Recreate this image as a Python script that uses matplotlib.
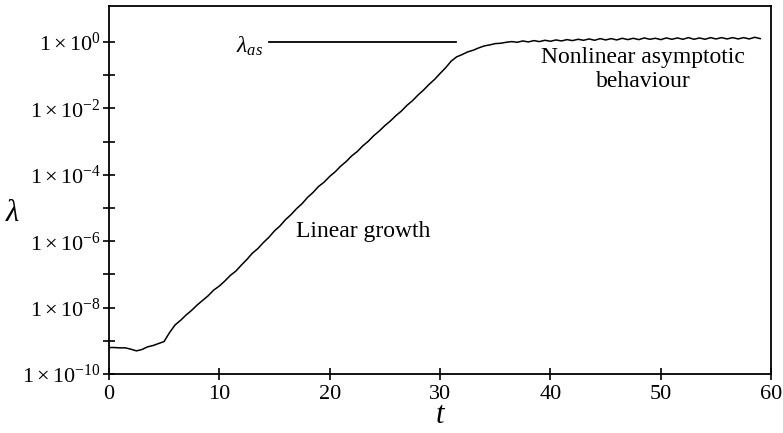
import numpy as np
import matplotlib
matplotlib.use("Agg")
import matplotlib.pyplot as plt
from matplotlib.ticker import FixedLocator, NullFormatter

plt.rcParams['font.family'] = 'Liberation Serif'
plt.rcParams['mathtext.fontset'] = 'custom'
plt.rcParams['mathtext.rm'] = 'Liberation Serif'
plt.rcParams['mathtext.it'] = 'Liberation Serif:italic'

t = np.arange(0, 59.5, 0.5)
log_lam = [
    -9.20, -9.20, -9.21, -9.21, -9.25, -9.30, -9.26, -9.18, -9.14, -9.08,  # 0 - 4.5
    -9.02, -8.75, -8.52, -8.38, -8.22, -8.08, -7.92, -7.78, -7.64, -7.47,  # 5 - 9.5
    -7.35, -7.20, -7.03, -6.90, -6.72, -6.55, -6.36, -6.22, -6.04, -5.88,  # 10 - 14.5
    -5.69, -5.54, -5.35, -5.20, -5.02, -4.87, -4.68, -4.53, -4.35, -4.22,  # 15 - 19.5
    -4.05, -3.91, -3.74, -3.60, -3.43, -3.30, -3.13, -2.99, -2.82, -2.68,  # 20 - 24.5
    -2.52, -2.38, -2.22, -2.08, -1.91, -1.77, -1.60, -1.45, -1.28, -1.13,  # 25 - 29.5
    -0.95, -0.78, -0.58, -0.45, -0.38, -0.30, -0.25, -0.18, -0.12, -0.09,  # 30 - 34.5
    -0.05, -0.04, -0.01, 0.01, -0.01, 0.03, 0.00, 0.04, 0.01, 0.05,         # 35 - 39.5
    0.02, 0.06, 0.03, 0.07, 0.04, 0.08, 0.05, 0.09, 0.05, 0.10,            # 40 - 44.5
    0.06, 0.10, 0.06, 0.11, 0.07, 0.11, 0.07, 0.12, 0.08, 0.11,            # 45 - 49.5
    0.07, 0.12, 0.08, 0.12, 0.08, 0.13, 0.08, 0.12, 0.08, 0.13,            # 50 - 54.5
    0.09, 0.13, 0.09, 0.13, 0.09, 0.13, 0.09, 0.14, 0.10,                  # 55 - 59
]
lam = 10.0 ** np.array(log_lam)

lam_as = 1.0
lam_as_span = (14.5, 31.4)

major_exp = [0, -2, -4, -6, -8, -10]
minor_exp = [-1, -3, -5, -7, -9]
x_ticks = [0, 10, 20, 30, 40, 50, 60]

fig = plt.figure(figsize=(7.83, 4.33), dpi=100)
ax = fig.add_axes([0.139, 0.136, 0.846, 0.850])

ax.plot(t, lam, color='black', lw=1.1)
ax.plot(lam_as_span, [lam_as, lam_as], color='black', lw=1.3)

ax.set_yscale('log')
ax.set_ylim(1e-10, 10 ** 1.08)
ax.set_xlim(0, 60)

ax.yaxis.set_major_locator(FixedLocator([10.0 ** e for e in major_exp]))
ax.yaxis.set_minor_locator(FixedLocator([10.0 ** e for e in minor_exp]))
ax.yaxis.set_minor_formatter(NullFormatter())
ax.set_yticklabels([r'$1\times10^{%d}$' % e for e in major_exp])
ax.set_xticks(x_ticks)

ax.tick_params(axis='both', which='both', direction='inout', length=8, width=1.2,
               labelsize=16, top=False, right=False)
ax.tick_params(axis='y', which='major', pad=2)
ax.tick_params(axis='x', pad=4)
for s in ax.spines.values():
    s.set_linewidth(1.3)

ax.set_xlabel(r'$t$', fontsize=22, labelpad=-2)
ax.set_ylabel(r'$\lambda$', fontsize=22, rotation=0, va='center', ha='center')
ax.yaxis.set_label_coords(-0.145, 0.4375)

ax.text(14.0, 10 ** -0.12, r'$\lambda_{as}$', ha='right', va='center', fontsize=17)
ax.text(23.0, 10 ** -5.72, 'Linear growth', ha='center', va='center', fontsize=17)
ax.text(48.4, 10 ** -0.84, 'Nonlinear asymptotic\nbehaviour', ha='center', va='center',
        fontsize=17, multialignment='center', linespacing=1.2)

fig.savefig('out.png', dpi=100)
